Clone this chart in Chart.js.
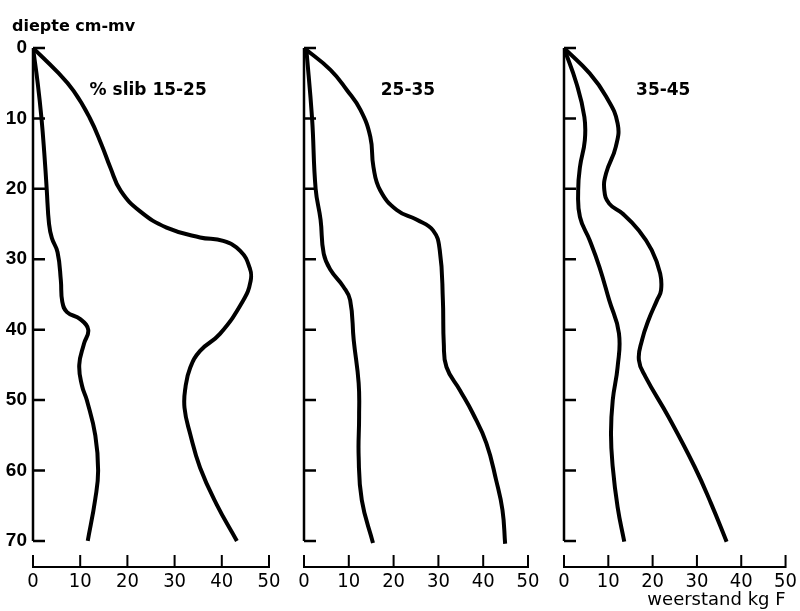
<!DOCTYPE html>
<html>
<head>
<meta charset="utf-8">
<title>weerstand naar diepte</title>
<script src="https://cdn.jsdelivr.net/npm/chart.js@4.4.1/dist/chart.umd.min.js"></script>
<style>
  html, body { margin: 0; padding: 0; background: #fff; }
  #wrap { position: relative; width: 800px; height: 611px; overflow: hidden; }
  canvas { position: absolute; top: 0; }
</style>
</head>
<body>
<div id="wrap">
  <canvas id="panel1" width="290" height="611" style="left:0px"></canvas>
  <canvas id="panel2" width="270" height="611" style="left:280px"></canvas>
  <canvas id="panel3" width="260" height="611" style="left:540px"></canvas>
</div>
<script>
// Tick labels
const depthTicks = [0, 10, 20, 30, 40, 50, 60, 70];
const forceTicks = [0, 10, 20, 30, 40, 50];

// % slib 15-25
const p1LowDepth = [0, 5, 10, 15, 20, 25, 27, 29, 33, 36, 37.5, 38.5, 40, 42, 45, 48, 50, 55, 60, 64, 70];
const p1LowValue = [0, 1.0, 1.8, 2.4, 2.9, 3.4, 4.0, 5.2, 5.9, 6.2, 7.2, 10.0, 11.7, 10.8, 9.8, 10.4, 11.4, 13.2, 13.8, 13.2, 11.6];
const p1HighDepth = [0, 3.3, 6.1, 9.9, 13.7, 17, 20.3, 23.2, 25.5, 26.9, 27.4, 28.8, 31.2, 33.1, 35.9, 40.6, 43, 45.4, 48.2, 51.1, 54.8, 59.6, 64.8, 70];
const p1HighValue = [0, 5.0, 8.6, 12.0, 14.5, 16.4, 18.6, 22.7, 28.3, 35.4, 40.3, 43.9, 45.9, 46.1, 44.5, 39.6, 35.4, 33.3, 32.3, 32.1, 33.3, 35.4, 38.9, 43.2];

// 25-35
const p2LowDepth = [0, 10, 20, 24.4, 29.2, 31.5, 33.9, 35.8, 41.5, 47.6, 52.4, 58, 64.2, 70.3];
const p2LowValue = [0.5, 1.8, 2.6, 3.7, 4.4, 5.9, 8.8, 10.3, 11.1, 12.2, 12.3, 12.2, 12.9, 15.4];
const p2HighDepth = [0, 3.1, 6, 8.8, 12.6, 16.9, 20.2, 23, 24.4, 25.9, 28.7, 35.8, 41.9, 45.3, 48.6, 51.9, 56.1, 61.4, 65.6, 70.4];
const p2HighValue = [0, 5.9, 9.6, 12.6, 14.8, 15.5, 17, 20.7, 25.2, 28.8, 30.3, 31.0, 31.2, 31.8, 34.8, 37.7, 40.7, 42.9, 44.3, 44.9];

// 35-45
const p3LowDepth = [0, 5, 9.8, 13.1, 16.9, 20.2, 24, 27.3, 31.1, 35.8, 40.5, 45.3, 50, 54.7, 59.5, 65.2, 70.1];
const p3LowValue = [0, 2.8, 4.6, 4.7, 3.6, 3.2, 3.6, 5.8, 8, 10.2, 12.4, 12.1, 11, 10.6, 11, 12.1, 13.6];
const p3HighDepth = [0, 3.6, 6.9, 10.7, 14, 17.8, 20.2, 22.1, 23.5, 25.9, 28.7, 32, 34.4, 35.8, 38.6, 41.5, 44.3, 46.7, 52.4, 59.5, 64.7, 70.1];
const p3HighValue = [0, 5.8, 9.5, 12.1, 11.7, 9.5, 9.1, 10.2, 13.2, 16.9, 19.8, 21.7, 21.9, 21, 19.1, 17.6, 16.9, 18.4, 23.6, 29.5, 33.2, 36.7];

const NARROW = '"Liberation Sans Narrow", "DejaVu Sans Condensed", "Liberation Sans", sans-serif';
const WIDE = '"DejaVu Sans", "Liberation Sans", sans-serif';

function toPoints(depths, values) {
  return depths.map((d, i) => ({ x: values[i], y: d }));
}

// Draws the hand-drawn style axes (inward ticks) and the panel caption
const paperAxes = {
  id: 'paperAxes',
  afterDraw(chart, args, opts) {
    const { ctx, chartArea } = chart;
    const xs = chart.scales.x;
    const ys = chart.scales.y;
    const x0 = xs.getPixelForValue(0);
    const x1 = xs.getPixelForValue(50);
    const axisY = chartArea.bottom;
    ctx.save();
    ctx.strokeStyle = '#000';
    ctx.lineWidth = 2.5;
    ctx.beginPath();
    ctx.moveTo(x0, ys.getPixelForValue(0));
    ctx.lineTo(x0, ys.getPixelForValue(70));
    depthTicks.forEach(d => {
      const py = ys.getPixelForValue(d);
      ctx.moveTo(x0, py);
      ctx.lineTo(x0 + 12, py);
    });
    ctx.stroke();
    ctx.lineWidth = 2;
    ctx.beginPath();
    ctx.moveTo(x0 - 1, axisY);
    ctx.lineTo(x1 + 1, axisY);
    forceTicks.forEach(v => {
      const px = xs.getPixelForValue(v);
      ctx.moveTo(px, axisY);
      ctx.lineTo(px, axisY - 12);
    });
    ctx.stroke();

    ctx.fillStyle = '#000';
    ctx.font = 'bold 17px ' + WIDE;
    ctx.textAlign = 'center';
    ctx.textBaseline = 'middle';
    ctx.fillText(opts.caption, xs.getPixelForValue(opts.captionAt[0]), ys.getPixelForValue(opts.captionAt[1]));
    if (opts.heading) {
      ctx.font = 'bold 16px ' + WIDE;
      ctx.textAlign = 'left';
      ctx.textBaseline = 'alphabetic';
      ctx.fillText(opts.heading, 12, 31);
    }
    ctx.restore();
  }
};

function makePanel(id, cfg) {
  const ctx = document.getElementById(id).getContext('2d');
  return new Chart(ctx, {
    type: 'line',
    data: {
      datasets: cfg.series.map(s => ({
        data: s,
        borderColor: '#000',
        borderWidth: 4,
        pointRadius: 0,
        tension: 0.45,
        fill: false
      }))
    },
    options: {
      indexAxis: 'y',
      responsive: false,
      animation: false,
      devicePixelRatio: 1,
      layout: { padding: { left: 0, top: 48, right: cfg.padRight, bottom: 0 } },
      scales: {
        x: {
          type: 'linear',
          min: 0,
          max: 50,
          afterFit: scale => { scale.height = 44; },
          afterBuildTicks: scale => { scale.ticks = forceTicks.map(v => ({ value: v })); },
          grid: { display: false, drawTicks: false },
          border: { display: false },
          ticks: {
            padding: 3,
            color: '#000',
            maxRotation: 0,
            font: { family: NARROW, size: 20 }
          },
          title: {
            display: !!cfg.xTitle,
            text: cfg.xTitle || '',
            align: 'end',
            color: '#000',
            padding: { top: 0, bottom: 0 },
            font: { family: WIDE, size: 18 }
          }
        },
        y: {
          type: 'linear',
          reverse: true,
          min: 0,
          max: 73.7,
          afterFit: scale => { scale.width = cfg.yWidth; },
          afterBuildTicks: scale => { scale.ticks = depthTicks.map(v => ({ value: v })); },
          grid: { display: false, drawTicks: false },
          border: { display: false },
          ticks: {
            display: cfg.yLabels,
            padding: 6,
            color: '#000',
            font: { family: '"Liberation Sans", sans-serif', size: 19, weight: 'bold' }
          }
        }
      },
      plugins: {
        legend: { display: false },
        tooltip: { enabled: false },
        paperAxes: { caption: cfg.caption, captionAt: cfg.captionAt, heading: cfg.heading }
      }
    },
    plugins: [paperAxes]
  });
}

makePanel('panel1', {
  series: [toPoints(p1LowDepth, p1LowValue), toPoints(p1HighDepth, p1HighValue)],
  padRight: 21,
  yWidth: 33,
  yLabels: true,
  caption: '% slib 15-25',
  captionAt: [24.4, 6],
  heading: 'diepte cm-mv'
});

makePanel('panel2', {
  series: [toPoints(p2LowDepth, p2LowValue), toPoints(p2HighDepth, p2HighValue)],
  padRight: 22,
  yWidth: 24,
  yLabels: false,
  caption: '25-35',
  captionAt: [23.2, 6]
});

makePanel('panel3', {
  series: [toPoints(p3LowDepth, p3LowValue), toPoints(p3HighDepth, p3HighValue)],
  padRight: 11,
  yWidth: 24,
  yLabels: false,
  caption: '35-45',
  captionAt: [22.4, 6],
  xTitle: 'weerstand kg F'
});
</script>
</body>
</html>
